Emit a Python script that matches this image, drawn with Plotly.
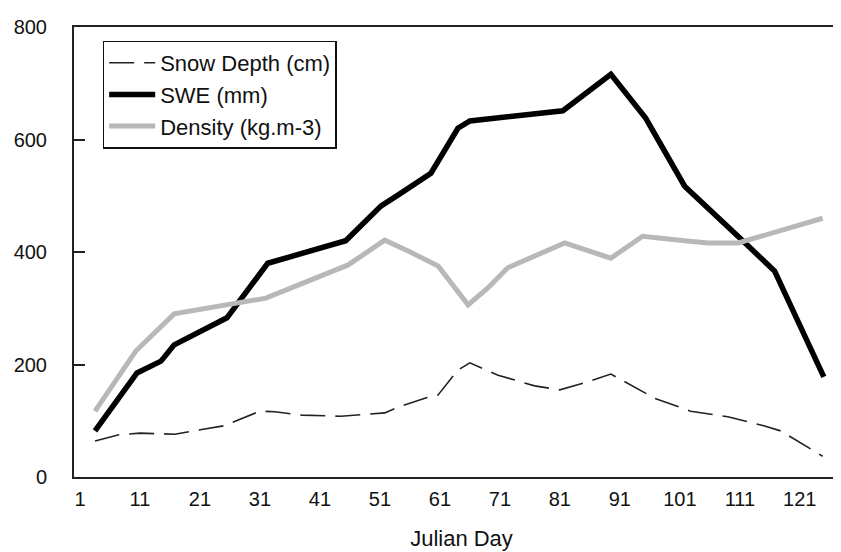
import plotly.graph_objects as go

# ---- data ----
depth_day = [3.5, 7.5, 11, 16.8, 20, 25, 31, 33.5, 38, 44.5, 51.8, 54.5, 58.5, 60.7, 64, 66,
             70.7, 76.8, 81, 85, 89.5, 96.8, 102.8, 109, 115, 117.8, 124.8]
depth_cm = [64, 75, 78, 76, 82, 91, 117, 116, 110, 108, 114, 126, 140, 146, 190, 203,
            181, 162, 155, 167, 183, 140, 117, 107, 91, 82, 37]

swe_day = [3.5, 10.5, 14.5, 16.7, 25.5, 30.7, 32.3, 45.3, 51.2, 54, 59.5, 64, 66,
           81.5, 89.5, 95.3, 101.8, 111, 116.8, 125]
swe_mm = [82, 185, 206, 235, 283, 359, 380, 420, 482, 501, 540, 620, 633,
          651, 716, 638, 517, 425, 366, 178]

dens_day = [3.5, 10.3, 16.7, 32, 45.7, 51.8, 55.7, 60.7, 65.7, 69, 72.3, 81.8,
            89.5, 94.8, 101.8, 105.7, 110.7, 124.8]
dens_kg = [117, 224, 290, 318, 377, 421, 402, 375, 306, 336, 372, 416,
           389, 428, 420, 416, 416, 460]

x_ticks = [1, 11, 21, 31, 41, 51, 61, 71, 81, 91, 101, 111, 121]
y_ticks = [0, 200, 400, 600, 800]

FONT = "Liberation Sans, Arial, sans-serif"

fig = go.Figure()
fig.add_trace(go.Scatter(x=depth_day, y=depth_cm, mode="lines", name="Snow Depth (cm)",
                         line=dict(color="#222222", width=1.6, dash="25px,10px")))
fig.add_trace(go.Scatter(x=swe_day, y=swe_mm, mode="lines", name="SWE (mm)",
                         line=dict(color="#000000", width=5.5)))
fig.add_trace(go.Scatter(x=dens_day, y=dens_kg, mode="lines", name="Density (kg.m-3)",
                         line=dict(color="#b8b8b8", width=5)))

fig.update_layout(
    width=841, height=552,
    margin=dict(l=66, r=0, t=19, b=83),
    paper_bgcolor="white", plot_bgcolor="white",
    font=dict(family=FONT, size=20, color="#111111"),
    showlegend=True,
    legend=dict(x=0.037, y=0.97, xanchor="left", yanchor="top",
                bordercolor="#111111", borderwidth=1.5, bgcolor="white",
                font=dict(size=22), itemwidth=46, tracegroupgap=0),
)
fig.update_xaxes(range=[0, 129.2], tickvals=x_ticks, ticktext=[str(v) for v in x_ticks],
                 showline=True, linecolor="#222222", linewidth=2, mirror=True,
                 showgrid=False, zeroline=False,
                 ticks="outside", ticklen=3, tickcolor="rgba(0,0,0,0)",
                 tickfont=dict(size=20),
                 title=dict(text="Julian Day", font=dict(size=22), standoff=22))
fig.update_yaxes(range=[0, 800], tickvals=y_ticks,
                 showline=True, linecolor="#222222", linewidth=2,
                 showgrid=False, zeroline=False,
                 ticks="inside", ticklen=11, tickwidth=2, tickcolor="#222222",
                 ticklabelstandoff=21,
                 tickfont=dict(size=20))

fig.write_html("out.html")
